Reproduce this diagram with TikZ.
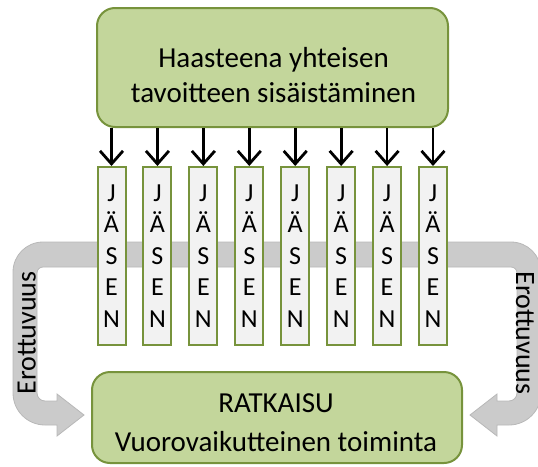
\documentclass[tikz,border=0pt]{standalone}
\usepackage{fontspec}
\setmainfont{Carlito}
\usetikzlibrary{arrows.meta}
\definecolor{boxfill}{HTML}{C3D69B}
\definecolor{boxline}{HTML}{77933C}
\definecolor{colfill}{HTML}{F2F2F2}
\definecolor{bandfill}{HTML}{CBCBCB}
\definecolor{bandline}{HTML}{B8B8B8}
\begin{document}
\begin{tikzpicture}[x=1pt,y=-1pt,
  bigbox/.style={draw=boxline, fill=boxfill, line width=2pt, rounded corners=18pt, inner sep=0pt},
  member/.style={draw=boxline, fill=colfill, line width=2pt, minimum width=28pt,
                 minimum height=178pt, inner sep=0pt, align=center,
                 font=\fontsize{26}{31.5}\selectfont},
  bigtext/.style={font=\fontsize{29}{35}\selectfont, anchor=base, inner sep=0pt},
  push/.style={line width=2.8pt, -{Straight Barb[length=13pt,width=23pt]}},
  band/.style={fill=bandfill, draw=bandline, line width=0.8pt},
  sidetext/.style={font=\fontsize{28}{34}\selectfont, inner sep=0pt, anchor=base}
]
\useasboundingbox (0,0) rectangle (538,466);

% grey double U-turn band running behind the members
\path[band]
  (84,415) -- (57,394) -- (57,401) -- (45,401)
  arc[start angle=90, end angle=180, radius=8] -- (37,273)
  arc[start angle=180, end angle=270, radius=6] -- (511,267)
  arc[start angle=270, end angle=360, radius=6] -- (517,393)
  arc[start angle=0, end angle=90, radius=8] -- (497,401)
  -- (497,394) -- (470,415) -- (497,436) -- (497,425) -- (509,425)
  arc[start angle=90, end angle=0, radius=32] -- (541,272)
  arc[start angle=0, end angle=-90, radius=30] -- (43,242)
  arc[start angle=270, end angle=180, radius=30] -- (13,393)
  arc[start angle=180, end angle=90, radius=32] -- (57,425)
  -- (57,436) -- cycle;

\node[sidetext, rotate=90] (sepL) at (35.5,333) {Erottuvuus};
\node[sidetext, rotate=-90] (sepR) at (516,333) {Erottuvuus};

% goal box
\node[bigbox, minimum width=351pt, minimum height=119pt] (goal) at (272.5,67.5) {};
\node[bigtext] (goalA) at (273.5,67) {Haasteena yhteisen};
\node[bigtext] (goalB) at (273.5,102) {tavoitteen sisäistäminen};

% members
\foreach \i in {1,...,8} {
  \node[member] (m\i) at ({111.5+45.93*(\i-1)},256) {J\\Ä\\S\\E\\N};
  \draw[push] (goal.south -| m\i) -- (m\i.north);
}

% solution box
\node[bigbox, minimum width=370pt, minimum height=91pt] (sol) at (277,417.5) {};
\node[bigtext] (solA) at (276,412) {RATKAISU};
\node[bigtext] (solB) at (276,451) {Vuorovaikutteinen toiminta};
\end{tikzpicture}
\end{document}
